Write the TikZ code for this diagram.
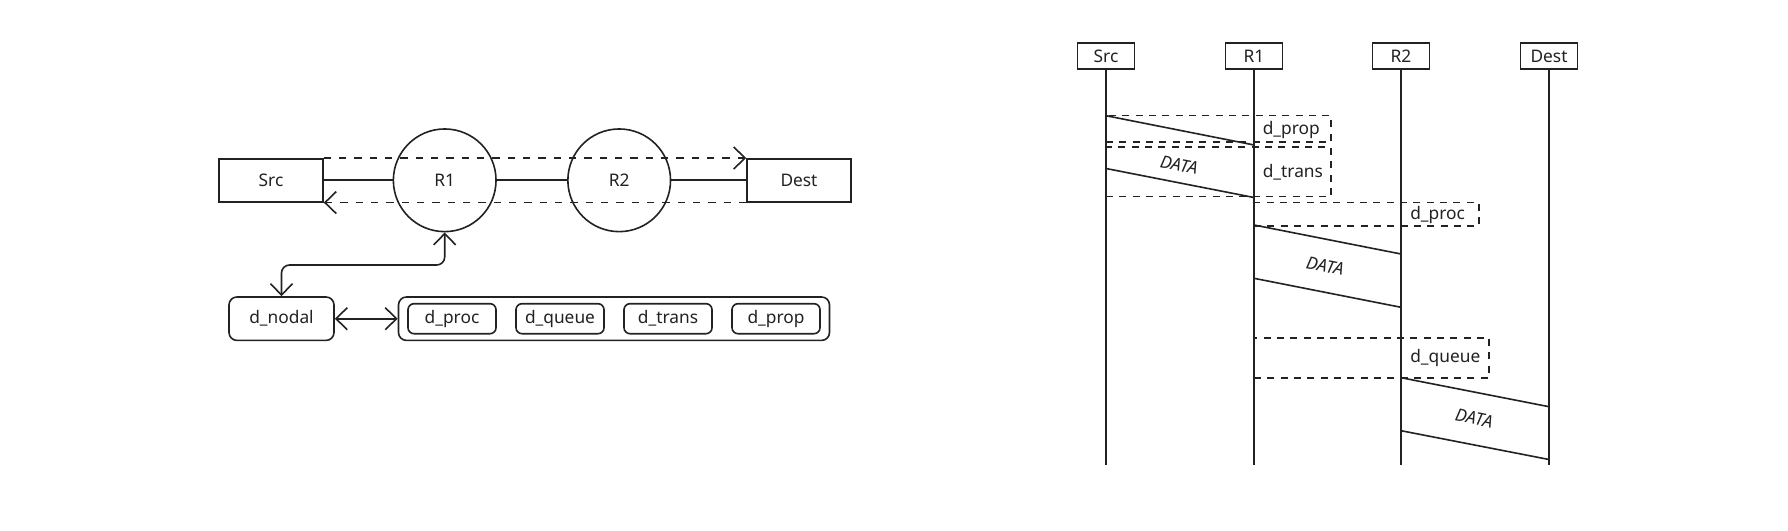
\documentclass[tikz,border=0pt]{standalone}
\usepackage{fontspec}
\setmainfont{Noto Sans}
\usetikzlibrary{arrows.meta}
\definecolor{ink}{HTML}{222222}
\begin{document}
\begin{tikzpicture}[x=0.75pt,y=-0.75pt, line width=1.2pt, color=ink,
  font=\fontsize{13}{15}\selectfont,
  tip/.tip={Straight Barb[length=8.5pt,width=16.5pt]},
  box/.style={draw, rectangle, inner sep=0pt, minimum width=78pt, minimum height=32.25pt},
  circ/.style={draw, circle, inner sep=0pt, minimum size=77pt},
  rbox/.style={draw, rectangle, rounded corners=6pt, inner sep=0pt, minimum height=32.6pt},
  ibox/.style={draw, rectangle, rounded corners=4.5pt, inner sep=0pt, minimum width=66pt, minimum height=22.5pt},
  hbox/.style={draw, rectangle, inner sep=0pt, minimum width=42.75pt, minimum height=19.5pt},
  dashL/.style={dash pattern=on 5.5pt off 6pt},
  dashR/.style={dash pattern=on 5.25pt off 4.75pt},
  dbox/.style={draw, dashR, rectangle, inner sep=0pt},
  lab/.style={inner sep=0pt, anchor=west},
  datalab/.style={inner sep=0pt, font=\fontsize{13}{15}\selectfont\itshape, rotate=-11.1}
]
\fill[white] (0,0) rectangle (1788,531);
\useasboundingbox (0,0) rectangle (1788,531);

% ---------- left: topology ----------
\node[box] (src) at (271,180.3) {Src};
\node[circ] (r1) at (444.7,180.3) {R1};
\node[circ] (r2) at (619.2,180.3) {R2};
\node[box] (dest) at (799,180.3) {Dest};

\draw (src) -- (r1);
\draw (r1) -- (r2);
\draw (r2) -- (dest);
\draw[dashL, -tip] (src.north east) -- (dest.north west);
\draw[dashL, -tip] (dest.south west) -- (src.south east);

\node[rbox, minimum width=78.75pt] (nodal) at (281.5,318.7) {d\_nodal};
\node[rbox, minimum width=323.25pt] (comp) at (614,318.7) {};
\node[ibox] (cproc) at (452,318.7) {d\_proc};
\node[ibox] (cqueue) at (560,318.7) {d\_queue};
\node[ibox] (ctrans) at (668,318.7) {d\_trans};
\node[ibox] (cprop) at (776,318.7) {d\_prop};

\coordinate (bend) at (444.7,265);
\draw[tip-tip, rounded corners=6pt] (nodal.north) |- (bend) -- (r1.south);
\draw[tip-tip] (nodal) -- (comp);

% ---------- right: timing diagram ----------
\node[hbox] (hsrc) at (1106,56) {Src};
\node[hbox] (hr1) at (1254,56) {R1};
\node[hbox] (hr2) at (1401,56) {R2};
\node[hbox] (hdest) at (1549,56) {Dest};
\coordinate (esrc) at (1106,465);
\coordinate (er1) at (1254,465);
\coordinate (er2) at (1401,465);
\coordinate (edest) at (1549,465);
\draw (hsrc) -- (esrc);
\draw (hr1) -- (er1);
\draw (hr2) -- (er2);
\draw (hdest) -- (edest);

% dashed delay boxes
\node[dbox, minimum width=168.75pt, minimum height=20.1pt] (bprop) at (1218.5,128.9) {};
\node[dbox, minimum width=168.75pt, minimum height=37.05pt] (btrans) at (1218.5,172) {};
\node[dbox, minimum width=168.75pt, minimum height=17.25pt] (bproc) at (1366.5,214.2) {};
\node[dbox, minimum width=176.25pt, minimum height=30pt] (bqueue) at (1371.5,357.7) {};
\node[lab] (lprop) at (1262,129.5) {d\_prop};
\node[lab] (ltrans) at (1262,172.5) {d\_trans};
\node[lab] (lproc) at (1409.5,214.5) {d\_proc};
\node[lab] (lqueue) at (1409.5,357.5) {d\_queue};

% data packets
\coordinate (a1) at (1106,115.7); \coordinate (a2) at (1254,145);
\coordinate (b1) at (1106,168.5); \coordinate (b2) at (1254,197.5);
\coordinate (c1) at (1254,225);   \coordinate (c2) at (1401,254);
\coordinate (d1) at (1254,278.3); \coordinate (d2) at (1401,307.3);
\coordinate (e1) at (1401,377.7); \coordinate (e2) at (1549,406.7);
\coordinate (f1) at (1401,430.7); \coordinate (f2) at (1549,459.5);
\draw (a1) -- (a2);
\draw (b1) -- (b2);
\draw (c1) -- (c2);
\draw (d1) -- (d2);
\draw (e1) -- (e2);
\draw (f1) -- (f2);
\node[datalab] (data1) at (1179,165) {DATA};
\node[datalab] (data2) at (1325,266) {DATA};
\node[datalab] (data3) at (1474,418.3) {DATA};
\end{tikzpicture}
\end{document}
